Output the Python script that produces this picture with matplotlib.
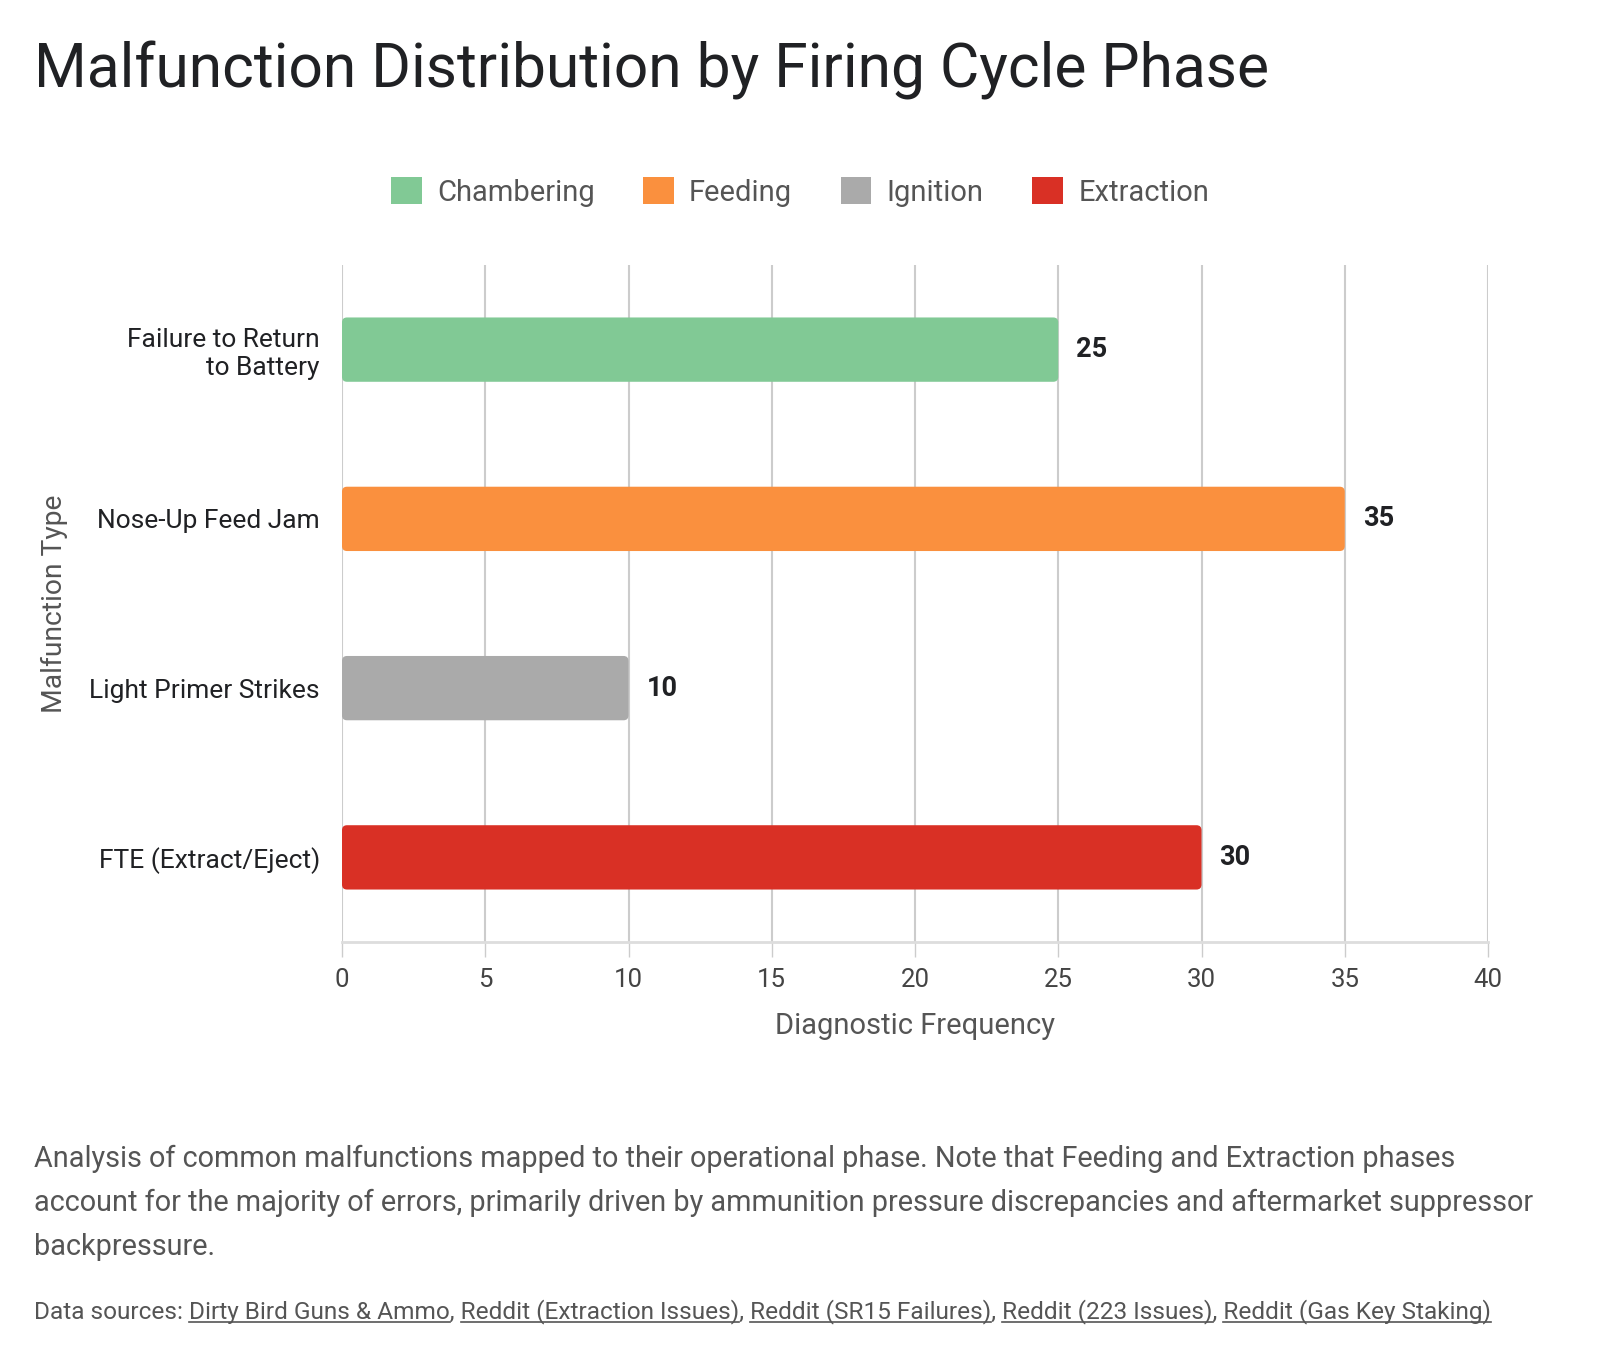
import matplotlib
matplotlib.use("Agg")
import matplotlib.pyplot as plt
from matplotlib.patches import FancyBboxPatch, Patch
from matplotlib.lines import Line2D

plt.rcParams['font.family'] = ['Roboto', 'DejaVu Sans']

# data
categories = ["Failure to Return\nto Battery", "Nose-Up Feed Jam",
              "Light Primer Strikes", "FTE (Extract/Eject)"]
values = [25, 35, 10, 30]
phases = ["Chambering", "Feeding", "Ignition", "Extraction"]
colors = ["#81c995", "#fa903e", "#aaaaaa", "#d93025"]
x_ticks = [0, 5, 10, 15, 20, 25, 30, 35, 40]

title = "Malfunction Distribution by Firing Cycle Phase"
caption_lines = [
    "Analysis of common malfunctions mapped to their operational phase. Note that Feeding and Extraction phases",
    "account for the majority of errors, primarily driven by ammunition pressure discrepancies and aftermarket suppressor",
    "backpressure.",
]
source_prefix = "Data sources: "
source_links = ["Dirty Bird Guns & Ammo", "Reddit (Extraction Issues)", "Reddit (SR15 Failures)",
                "Reddit (223 Issues)", "Reddit (Gas Key Staking)"]

W, H = 1600, 1360
fig = plt.figure(figsize=(W / 100, H / 100), dpi=100)
ax = fig.add_axes([342 / W, 1 - 942 / H, (1488 - 342) / W, (942 - 265) / H])

bar_h = 0.38
px_x = (1488 - 342) / 40.0
px_y = (942 - 265) / 4.0
r = 5
for i, (v, c) in enumerate(zip(values, colors)):
    box = FancyBboxPatch((0, i - bar_h / 2), v, bar_h,
                         boxstyle="round,pad=0,rounding_size=%f" % (r / px_x),
                         mutation_aspect=px_x / px_y,
                         facecolor=c, edgecolor="none", zorder=3)
    ax.add_patch(box)
    ax.annotate(str(v), xy=(v, i), xytext=(13, 0), textcoords="offset points",
                ha="left", va="center", fontsize=19.5, fontweight="bold",
                color="#202124", zorder=4)

ax.set_xlim(0, 40)
ax.set_ylim(3.5, -0.5)
ax.set_yticks(range(len(categories)))
ax.set_yticklabels(categories)
ax.set_xticks(x_ticks)
ax.grid(axis="x", color="#cccccc", linewidth=1.5, zorder=0)
for s in ["top", "right", "left"]:
    ax.spines[s].set_visible(False)
ax.spines["bottom"].set_color("#dddddd")
ax.spines["bottom"].set_linewidth(2)
ax.tick_params(axis="y", length=0, pad=16, labelsize=19, labelcolor="#202124")
ax.tick_params(axis="x", length=11, width=1, color="#cccccc", pad=8,
               labelsize=18.5, labelcolor="#444444")
ax.set_xlabel("Diagnostic Frequency", fontsize=21, color="#555555", labelpad=14)
ax.set_ylabel("Malfunction Type", fontsize=20.3, color="#555555")
ax.yaxis.set_label_coords(-0.239, 0.5)

fig.text(34 / W, 1 - 87 / H, title, fontsize=43.6, color="#202124",
         ha="left", va="baseline")

handles = [Patch(facecolor=c, edgecolor="none") for c in colors]
fig.legend(handles, phases, loc="center", bbox_to_anchor=(0.5, 1 - 192 / H), ncol=4,
           frameon=False, fontsize=21, handlelength=1.05, handleheight=1.05,
           handletextpad=0.52, columnspacing=1.67, labelcolor="#555555")

for k, line in enumerate(caption_lines):
    fig.text(34 / W, 1 - (1167 + 44 * k) / H, line, fontsize=20.8, color="#555555",
             ha="left", va="baseline")

# sources line with underlined links
src_fs = 17.6
src_y = 1 - 1318 / H
full = source_prefix + ", ".join(source_links)
fig.text(34 / W, src_y, full, fontsize=src_fs, color="#555555", ha="left", va="baseline")
fig.canvas.draw()
renderer = fig.canvas.get_renderer()


def width(s):
    t = fig.text(0, 0, s, fontsize=src_fs)
    w = t.get_window_extent(renderer).width
    t.remove()
    return w


prefix = source_prefix
for link in source_links:
    end = 34 + width(prefix + link)
    start = end - width(link)
    ly = 1360 - 1318 - 4
    fig.add_artist(Line2D([start / W, end / W], [ly / H, ly / H], color="#555555",
                          linewidth=1.2))
    prefix = prefix + link + ", "

fig.savefig("out.png", dpi=100, facecolor="white")
